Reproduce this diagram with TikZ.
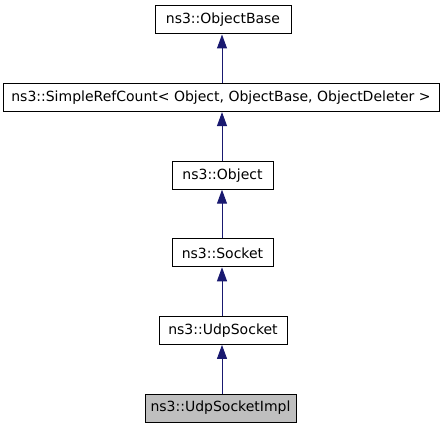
\documentclass[tikz,border=0pt]{standalone}
\usepackage{fontspec}
\setmainfont{DejaVu Sans}
\usetikzlibrary{arrows.meta}

\begin{document}
\begin{tikzpicture}[x=0.75pt,y=-0.75pt,
    cls/.style={draw,line width=0.75pt,inner sep=0pt,minimum height=21pt,
      font=\fontsize{10.5}{12}\selectfont},
    inh/.style={draw={rgb,255:red,25;green,25;blue,112},line width=0.75pt,
      {Triangle[width=7.5pt,length=10.5pt]}-}]
    \useasboundingbox (0,0) rectangle (445,427);
    \node[cls,minimum width=102pt] (objbase) at (223.0, 20.0) {ns3::ObjectBase};
    \node[cls,minimum width=327pt] (refcount) at (221.0, 97.6) {ns3::SimpleRefCount< Object, ObjectBase, ObjectDeleter >};
    \node[cls,minimum width=75.75pt] (object) at (222.5,175.2) {ns3::Object};
    \node[cls,minimum width=75.75pt] (socket) at (222.5,252.8) {ns3::Socket};
    \node[cls,minimum width=96pt] (udpsock) at (223.0,330.4) {ns3::UdpSocket};
    \node[cls,minimum width=113.25pt,fill={rgb,255:red,191;green,191;blue,191}] (udpimpl) at (220.5,408.0) {ns3::UdpSocketImpl};
    \draw[inh,fill={rgb,255:red,25;green,25;blue,112}] (objbase.south -| 222,0) -- (refcount.north -| 222,0);
    \draw[inh,fill={rgb,255:red,25;green,25;blue,112}] (refcount.south -| 222,0) -- (object.north -| 222,0);
    \draw[inh,fill={rgb,255:red,25;green,25;blue,112}] (object.south -| 222,0) -- (socket.north -| 222,0);
    \draw[inh,fill={rgb,255:red,25;green,25;blue,112}] (socket.south -| 222,0) -- (udpsock.north -| 222,0);
    \draw[inh,fill={rgb,255:red,25;green,25;blue,112}] (udpsock.south -| 222,0) -- (udpimpl.north -| 222,0);
  \end{tikzpicture}
\end{document}
